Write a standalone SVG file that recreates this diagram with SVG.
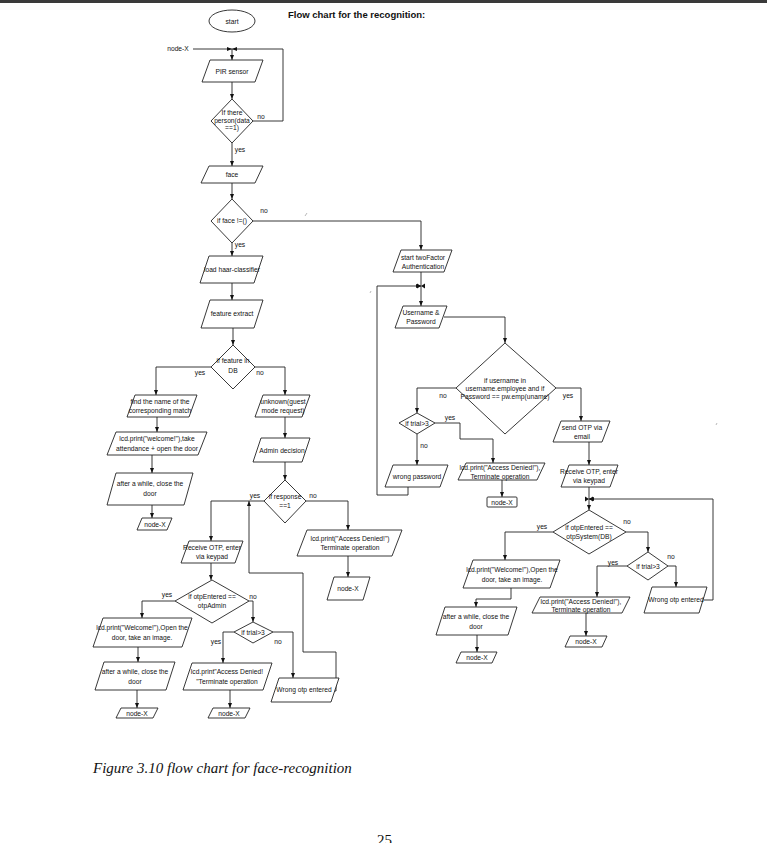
<svg xmlns="http://www.w3.org/2000/svg" width="767" height="843" viewBox="0 0 767 843">
<defs>
<style>
.s{fill:#fff;stroke:#222;stroke-width:0.9}
.c{fill:none;stroke:#222;stroke-width:0.9}
.t{font-family:'Liberation Sans',Arial,sans-serif;font-size:6.7px;fill:#111;text-anchor:middle}
.l{font-family:'Liberation Sans',Arial,sans-serif;font-size:6.7px;fill:#111;text-anchor:middle}
.m{fill:none;stroke:#999;stroke-width:0.7}
</style>
<marker id="a" markerUnits="userSpaceOnUse" viewBox="0 0 10 10" refX="10" refY="5" markerWidth="5" markerHeight="5" orient="auto"><path d="M0,1 L10,5 L0,9 z" fill="#111"/></marker>
<path id="bt" d="M-4,-2.5 L0,0 L-4,2.5 z M4,-2.5 L0,0 L4,2.5 z" fill="#111"/>
</defs>
<rect width="767" height="843" fill="#fff"/>
<rect x="0" y="0" width="767" height="3" fill="#3a3a3a"/>
<text x="288" y="18" font-family="'Liberation Sans',Arial,sans-serif" font-size="9.5" font-weight="bold" fill="#111">Flow chart for the recognition:</text>

<g id="connectors">
<path class="c" d="M193,49 H232" marker-end="url(#a)"/>
<path class="c" d="M253,121 H283 V49 H232" marker-end="url(#a)"/>
<path class="c" d="M232,49 V60" marker-end="url(#a)"/>
<path class="c" d="M232,82 V99" marker-end="url(#a)"/>
<path class="c" d="M232,143 V166" marker-end="url(#a)"/>
<path class="c" d="M232,183 V199" marker-end="url(#a)"/>
<path class="c" d="M253,221 H421 V250" marker-end="url(#a)"/>
<path class="c" d="M232,243 V256" marker-end="url(#a)"/>
<path class="c" d="M232,283 V300" marker-end="url(#a)"/>
<path class="c" d="M233,328 V345" marker-end="url(#a)"/>
<path class="c" d="M211,367 H156 V395" marker-end="url(#a)"/>
<path class="c" d="M255,367 H285 V395" marker-end="url(#a)"/>
<path class="c" d="M157,417 V432" marker-end="url(#a)"/>
<path class="c" d="M152,455 V473" marker-end="url(#a)"/>
<path class="c" d="M152,505 V518" marker-end="url(#a)"/>
<path class="c" d="M285,417 V438" marker-end="url(#a)"/>
<path class="c" d="M285,462 V480" marker-end="url(#a)"/>
<path class="c" d="M264,501 H211 V541" marker-end="url(#a)"/>
<path class="c" d="M306,501 H348 V530" marker-end="url(#a)"/>
<path class="c" d="M348,556 V577" marker-end="url(#a)"/>
<path class="c" d="M211,563 V580" marker-end="url(#a)"/>
<path class="c" d="M175,601 H142 V618" marker-end="url(#a)"/>
<path class="c" d="M249,601 H253 V622" marker-end="url(#a)"/>
<path class="c" d="M138,647 V662" marker-end="url(#a)"/>
<path class="c" d="M137,690 V708" marker-end="url(#a)"/>
<path class="c" d="M234,632 H223 V663" marker-end="url(#a)"/>
<path class="c" d="M273,632 H293 V678" marker-end="url(#a)"/>
<path class="c" d="M230,690 V708" marker-end="url(#a)"/>
<path class="c" d="M334,691 H336 V652 H303 V573 H249 V501" marker-end="url(#a)"/>
<path class="c" d="M421,272 V286"/>
<path class="c" d="M421,286 V306" marker-end="url(#a)"/>
<path class="c" d="M408,487 V495 H377 V286 H421" marker-end="url(#a)"/>
<path class="c" d="M444,317 H505 V343" marker-end="url(#a)"/>
<path class="c" d="M456,388 H417 V413" marker-end="url(#a)"/>
<path class="c" d="M417,434 V465" marker-end="url(#a)"/>
<path class="c" d="M435,423 H460 V439 H493 V463" marker-end="url(#a)"/>
<path class="c" d="M502,470 V497" marker-end="url(#a)"/>
<path class="c" d="M556,388 H581 V421" marker-end="url(#a)"/>
<path class="c" d="M589,442 V465" marker-end="url(#a)"/>
<path class="c" d="M589,487 V499"/>
<path class="c" d="M589,499 V510" marker-end="url(#a)"/>
<path class="c" d="M704,600 H713 V499 H589" marker-end="url(#a)"/>
<path class="c" d="M553,532 H505 V560" marker-end="url(#a)"/>
<path class="c" d="M626,532 H648 V552" marker-end="url(#a)"/>
<path class="c" d="M627,566 H597 V597" marker-end="url(#a)"/>
<path class="c" d="M668,566 H676 V587" marker-end="url(#a)"/>
<path class="c" d="M511,588 V599 H476 V607" marker-end="url(#a)"/>
<path class="c" d="M477,635 V652" marker-end="url(#a)"/>
<path class="c" d="M586,613 V636" marker-end="url(#a)"/>
<use href="#bt" x="421" y="286"/>
<use href="#bt" x="589" y="499"/>
<text class="l" x="178" y="51">node-X</text>
<text class="l" x="261" y="119">no</text>
<text class="l" x="240" y="152">yes</text>
<text class="l" x="264" y="213">no</text>
<text class="l" x="240" y="247">yes</text>
<text class="l" x="200" y="375">yes</text>
<text class="l" x="260" y="375">no</text>
<text class="l" x="255" y="498">yes</text>
<text class="l" x="313" y="498">no</text>
<text class="l" x="167" y="597">yes</text>
<text class="l" x="253" y="599">no</text>
<text class="l" x="216" y="644">yes</text>
<text class="l" x="278" y="644">no</text>
<text class="l" x="443" y="398">no</text>
<text class="l" x="568" y="398">yes</text>
<text class="l" x="450" y="420">yes</text>
<text class="l" x="424" y="448">no</text>
<text class="l" x="542" y="529">yes</text>
<text class="l" x="627" y="524">no</text>
<text class="l" x="613" y="565">yes</text>
<text class="l" x="671" y="559">no</text>
<path class="m" d="M305,216 L307,213 M370,293 L371,291 M716,425 L717,423"/>
</g>

<g id="start"><ellipse class="s" cx="232" cy="21" rx="23" ry="11"/><text class="t" x="232" y="23.5">start</text></g>
<g id="pir"><polygon class="s" points="210,60 263,60 255,82 202,82"/><text class="t" x="232" y="73.5">PIR sensor</text></g>
<g id="dec-person"><polygon class="s" points="232,99 253,121 232,143 211,121"/><text class="t" x="232" y="115">If there</text><text class="t" x="232" y="122.5">person(data</text><text class="t" x="232" y="130">==1)</text></g>
<g id="face"><polygon class="s" points="209,166 263,166 255,183 201,183"/><text class="t" x="232" y="177">face</text></g>
<g id="dec-face"><polygon class="s" points="232,199 253,221 232,243 211,221"/><text class="t" x="232" y="223">if face !=()</text></g>
<g id="haar"><polygon class="s" points="209,256 263,256 254,283 200,283"/><text class="t" x="232" y="272">load haar-classifier</text></g>
<g id="feature"><polygon class="s" points="210,300 263,300 254,328 201,328"/><text class="t" x="232" y="316">feature extract</text></g>
<g id="dec-db"><polygon class="s" points="233,345 255,367 233,389 211,367"/><text class="t" x="233" y="363">if feature in</text><text class="t" x="233" y="373">DB</text></g>
<g id="find"><polygon class="s" points="135,395 197,395 189,417 127,417"/><text class="t" x="160" y="404">find the name of the</text><text class="t" x="160" y="413">corresponding match</text></g>
<g id="attend"><polygon class="s" points="116,432 207,432 198,455 107,455"/><text class="t" x="157" y="441">lcd.print("welcome!"),take</text><text class="t" x="157" y="451">attendance + open the door</text></g>
<g id="close1"><polygon class="s" points="116,473 193,473 184,505 107,505"/><text class="t" x="150" y="486">after a while, close the</text><text class="t" x="150" y="496">door</text></g>
<g id="nodex1"><polygon class="s" points="142,518 172,518 167,530 137,530"/><text class="t" x="155" y="526.5">node-X</text></g>
<g id="unknown"><polygon class="s" points="263,395 310,395 302,417 255,417"/><text class="t" x="283" y="404">unknown(guest</text><text class="t" x="283" y="413">mode request)</text></g>
<g id="admin"><polygon class="s" points="261,438 310,438 302,462 253,462"/><text class="t" x="282" y="452.5">Admin decision</text></g>
<g id="dec-response"><polygon class="s" points="285,480 306,501 285,523 264,501"/><text class="t" x="285" y="499">if response</text><text class="t" x="285" y="508">==1</text></g>
<g id="denied-mid"><polygon class="s" points="307,530 402,530 392,556 297,556"/><text class="t" x="350" y="541">lcd.print("Access Denied!")</text><text class="t" x="350" y="550">Terminate operation</text></g>
<g id="nodex-mid"><polygon class="s" points="334,577 370,577 363,600 327,600"/><text class="t" x="348" y="590.5">node-X</text></g>
<g id="receive-l"><polygon class="s" points="189,541 243,541 235,563 181,563"/><text class="t" x="212" y="550">Receive OTP, enter</text><text class="t" x="212" y="559">via keypad</text></g>
<g id="dec-otpadmin"><polygon class="s" points="212,580 249,601 212,623 175,601"/><text class="t" x="212" y="599">if otpEntered ==</text><text class="t" x="212" y="608">otpAdmin</text></g>
<g id="welcome-l"><polygon class="s" points="103,618 192,618 182,647 93,647"/><text class="t" x="142" y="630">lcd.print("Welcome!"),Open the</text><text class="t" x="142" y="640">door, take an image.</text></g>
<g id="close2"><polygon class="s" points="104,662 175,662 166,690 95,690"/><text class="t" x="135" y="674">after a while, close the</text><text class="t" x="135" y="684">door</text></g>
<g id="nodex2"><polygon class="s" points="121,708 158,708 153,718 116,718"/><text class="t" x="137" y="715.5">node-X</text></g>
<g id="trial1"><polygon class="s" points="253,622 273,632 253,643 234,632"/><text class="t" x="253" y="634.5">if trial&gt;3</text></g>
<g id="denied-admin"><polygon class="s" points="192,663 272,663 263,690 183,690"/><text class="t" x="227" y="674">lcd.print"Access Denied!</text><text class="t" x="227" y="684">"Terminate operation</text></g>
<g id="nodex3"><polygon class="s" points="213,708 250,708 245,718 208,718"/><text class="t" x="229" y="715.5">node-X</text></g>
<g id="wrongotp-l"><polygon class="s" points="279,678 339,678 331,702 271,702"/><text class="t" x="304" y="692">Wrong otp entered</text></g>
<g id="twofactor"><polygon class="s" points="401,250 452,250 444,272 393,272"/><text class="t" x="423" y="259.5">start twoFactor</text><text class="t" x="423" y="268.5">Authentication</text></g>
<g id="userpass"><polygon class="s" points="403,306 447,306 439,328 395,328"/><text class="t" x="421" y="315">Username &amp;</text><text class="t" x="421" y="324">Password</text></g>
<g id="dec-user"><polygon class="s" points="505,343 556,388 505,434 456,388"/><text class="t" x="505" y="383">if username in</text><text class="t" x="505" y="391">username.employee and if</text><text class="t" x="505" y="399">Password == pw.emp(uname)</text></g>
<g id="trial2"><polygon class="s" points="417,413 435,423 417,434 399,423"/><text class="t" x="417" y="425.5">if trial&gt;3</text></g>
<g id="wrongpw"><polygon class="s" points="393,465 448,465 440,487 385,487"/><text class="t" x="417" y="478.5">wrong password</text></g>
<g id="denied-r1"><polygon class="s" points="466,463 545,463 537,480 458,480"/><text class="t" x="500" y="470">lcd.print("Access Denied!"),</text><text class="t" x="500" y="478.5">Terminate operation</text></g>
<g id="nodex-r1"><rect class="s" x="487" y="497" width="30" height="10" rx="1"/><text class="t" x="502" y="504.5">node-X</text></g>
<g id="sendotp"><polygon class="s" points="561,421 610,421 602,442 553,442"/><text class="t" x="582" y="430">send OTP via</text><text class="t" x="582" y="439">email</text></g>
<g id="receive-r"><polygon class="s" points="569,465 618,465 610,487 561,487"/><text class="t" x="589" y="474">Receive OTP, enter</text><text class="t" x="589" y="483">via keypad</text></g>
<g id="dec-otpsys"><polygon class="s" points="589,510 626,532 589,554 553,532"/><text class="t" x="589" y="530">if otpEntered ==</text><text class="t" x="589" y="539">otpSystem(DB)</text></g>
<g id="welcome-r"><polygon class="s" points="473,560 560,560 550,588 463,588"/><text class="t" x="512" y="572">lcd.print("Welcome!"),Open the</text><text class="t" x="512" y="582">door, take an image.</text></g>
<g id="close3"><polygon class="s" points="445,607 517,607 508,635 436,635"/><text class="t" x="476" y="619">after a while, close the</text><text class="t" x="476" y="629">door</text></g>
<g id="nodex-r2"><polygon class="s" points="461,652 497,652 492,663 456,663"/><text class="t" x="477" y="660">node-X</text></g>
<g id="trial3"><polygon class="s" points="648,552 668,566 648,580 627,566"/><text class="t" x="648" y="568.5">if trial&gt;3</text></g>
<g id="denied-r2"><polygon class="s" points="540,597 630,597 622,613 532,613"/><text class="t" x="581" y="603.5">lcd.print("Access Denied!"),</text><text class="t" x="581" y="612">Terminate operation</text></g>
<g id="nodex-r3"><polygon class="s" points="570,636 607,636 602,647 565,647"/><text class="t" x="586" y="644">node-X</text></g>
<g id="wrongotp-r"><polygon class="s" points="652,587 707,587 699,613 644,613"/><text class="t" x="676" y="602">Wrong otp entered</text></g>

<text x="93" y="773" font-family="'Liberation Serif','Times New Roman',serif" font-size="15" font-style="italic" fill="#111">Figure 3.10 flow chart for face-recognition</text>
<text x="377" y="845" font-family="'Liberation Serif','Times New Roman',serif" font-size="15" fill="#111">25</text>
</svg>
